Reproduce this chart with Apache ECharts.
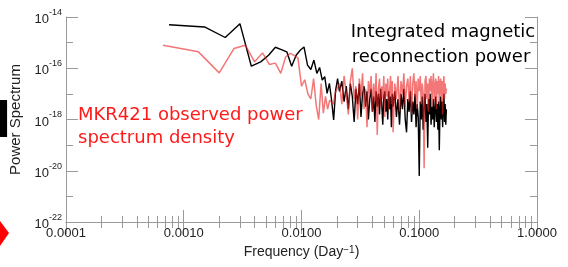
<!DOCTYPE html>
<html>
<head>
<meta charset="utf-8" />
<title>Power Spectrum</title>
<script src="https://cdn.jsdelivr.net/npm/echarts@6/dist/echarts.min.js"></script>
<style>
  html, body { margin: 0; padding: 0; background: #fff; }
  #chart { width: 568px; height: 267px; }
</style>
</head>
<body>
<div id="chart"></div>
<script type="text/javascript">
// tick values
var xMajor = [0.0001, 0.001, 0.01, 0.1, 1];
var xMinor = [0.0002, 0.0003, 0.0004, 0.0005, 0.0006, 0.0007, 0.0008, 0.0009,
              0.002, 0.003, 0.004, 0.005, 0.006, 0.007, 0.008, 0.009,
              0.02, 0.03, 0.04, 0.05, 0.06, 0.07, 0.08, 0.09,
              0.2, 0.3, 0.4, 0.5, 0.6, 0.7, 0.8, 0.9];
var yMajor = [1e-22, 1e-20, 1e-18, 1e-16, 1e-14];
var yMinor = [1e-21, 1e-19, 1e-17, 1e-15];

// integrated reconnection power (black), low frequencies
var blackLowFreq = [0.00075, 0.0015, 0.00225, 0.003, 0.00375, 0.0045, 0.00525, 0.006, 0.00675,
                    0.0075, 0.00825, 0.009, 0.00975, 0.0105, 0.01125, 0.012, 0.01275, 0.0135,
                    0.01425, 0.015, 0.01575, 0.0165, 0.01725, 0.018, 0.01875, 0.0195, 0.02025];
var blackLowExp = [-14.30, -14.39, -14.80, -14.26, -15.92, -15.75, -15.49, -15.18, -15.27,
                   -15.36, -15.92, -15.49, -15.30, -15.17, -15.88, -16.05, -15.68, -16.20,
                   -15.97, -16.46, -16.33, -16.98, -16.59, -17.24, -18.02, -16.85, -16.40];

// MKR421 observed power (red), low frequencies
var redLowFreq = [0.000667, 0.001333, 0.002, 0.002667, 0.003333, 0.004, 0.004667, 0.005333,
                  0.006, 0.006667, 0.007333, 0.008, 0.008667, 0.009333, 0.01, 0.010667,
                  0.011333, 0.012, 0.012667, 0.013333, 0.014, 0.014667, 0.015333, 0.016,
                  0.016667, 0.017333, 0.018, 0.018667, 0.019333, 0.02];
var redLowExp = [-15.10, -15.36, -16.18, -15.23, -15.10, -15.75, -15.40, -15.85,
                 -15.80, -16.20, -15.56, -15.42, -15.50, -15.60, -16.70, -16.45,
                 -17.00, -17.20, -16.40, -17.45, -18.00, -16.60, -17.75, -17.10,
                 -17.60, -17.25, -17.30, -17.40, -16.95, -17.00];

// high frequency part, shared frequency grid
var hfFreq = [0.021, 0.022, 0.023, 0.024, 0.025, 0.026, 0.027, 0.028, 0.029, 0.030,
              0.031, 0.032, 0.033, 0.034, 0.035, 0.036, 0.037, 0.038, 0.039, 0.040,
              0.041, 0.042, 0.043, 0.044, 0.045, 0.046, 0.047, 0.048, 0.049, 0.050,
              0.051, 0.052, 0.053, 0.054, 0.055, 0.056, 0.057, 0.058, 0.059, 0.060,
              0.062, 0.064, 0.066, 0.068, 0.070, 0.072, 0.074, 0.076, 0.078, 0.080,
              0.082, 0.084, 0.086, 0.088, 0.090, 0.092, 0.094, 0.096, 0.098, 0.100,
              0.102, 0.104, 0.106, 0.108, 0.110, 0.112, 0.114, 0.116, 0.118, 0.120,
              0.122, 0.124, 0.126, 0.128, 0.130, 0.132, 0.134, 0.136, 0.138, 0.140,
              0.142, 0.144, 0.146, 0.148, 0.150, 0.152, 0.154, 0.156, 0.158, 0.160,
              0.162, 0.164, 0.166, 0.168, 0.170];
var blackHfExp = [-16.9, -16.5, -17.3, -16.7, -17.6, -16.6, -17.1, -18.1, -16.8, -17.4,
                  -16.6, -17.9, -17.0, -16.7, -17.5, -16.9, -18.0, -17.2, -16.8, -17.7,
                  -17.1, -18.1, -16.9, -17.5, -17.0, -17.8, -16.8, -17.4, -18.2, -17.1,
                  -16.9, -17.7, -17.2, -18.0, -16.9, -17.6, -17.1, -18.3, -17.0, -17.5,
                  -16.9, -17.9, -17.2, -18.2, -17.0, -17.6, -16.8, -18.0, -18.5, -17.2,
                  -17.7, -16.9, -18.1, -17.3, -17.8, -17.0, -18.3, -17.4, -17.9, -20.2,
                  -17.3, -18.0, -17.1, -18.4, -17.5, -17.0, -18.1, -17.4, -19.1, -17.2,
                  -17.8, -17.0, -18.2, -17.5, -18.0, -17.2, -18.3, -17.6, -17.1, -18.1,
                  -17.4, -18.4, -17.3, -19.2, -17.6, -17.1, -18.0, -17.3, -18.3, -17.5,
                  -17.0, -18.1, -17.4, -18.2, -17.6];
var redHfExp = [-16.6, -17.4, -16.3, -17.0, -17.8, -16.5, -16.0, -17.2, -16.7, -18.0,
                -16.4, -17.1, -16.2, -17.6, -16.8, -18.3, -16.5, -17.0, -16.3, -17.7,
                -16.6, -17.3, -16.2, -18.6, -16.8, -16.4, -17.5, -16.7, -17.2, -16.3,
                -17.9, -16.6, -17.1, -16.4, -17.6, -16.9, -16.3, -17.4, -16.5, -18.5,
                -16.6, -17.2, -16.3, -17.7, -16.5, -17.0, -16.2, -17.5, -16.7, -16.4,
                -17.3, -16.3, -17.8, -16.6, -16.2, -17.1, -16.5, -17.6, -16.4, -16.9,
                -16.3, -17.4, -16.6, -17.0, -19.9, -16.5, -16.3, -17.2, -16.6, -17.7,
                -16.4, -16.9, -16.3, -17.5, -16.6, -16.2, -17.3, -16.7, -16.4, -17.6,
                -16.5, -17.0, -16.3, -17.4, -16.6, -16.4, -17.1, -16.5, -17.8, -16.7,
                -16.3, -17.2, -16.6, -17.0, -16.8];

function toPairs(freqs, exps) {
  return freqs.map(function (f, i) { return [f, Math.pow(10, exps[i])]; });
}
var blackData = toPairs(blackLowFreq.concat(hfFreq), blackLowExp.concat(blackHfExp));
var redData = toPairs(redLowFreq.concat(hfFreq), redLowExp.concat(redHfExp));

var axisGray = '#9a9a9a';
var labelFont = 'Liberation Sans';

function xAxisDef(pos, major) {
  var ax = {
    type: 'log', logBase: 10, min: 0.0001, max: 1, position: pos,
    axisLine: { show: major, lineStyle: { color: axisGray, width: 1 } },
    axisTick: { show: true, inside: true, length: major ? 12 : 6,
                customValues: major ? xMajor : xMinor,
                lineStyle: { color: axisGray, width: 1 } },
    axisLabel: { show: false },
    splitLine: { show: false }
  };
  if (pos === 'bottom' && major) {
    ax.axisLabel = {
      show: true, customValues: xMajor, margin: 5,
      fontFamily: labelFont, fontSize: 13, color: '#222',
      formatter: function (v) { return Number(v).toFixed(4); }
    };
    ax.name = 'Frequency (Day{s|\u22121})';
    ax.nameLocation = 'middle';
    ax.nameGap = 22;
    ax.nameTextStyle = {
      fontFamily: labelFont, fontSize: 14, color: '#222',
      rich: { s: { fontSize: 10, verticalAlign: 'top', lineHeight: 10, fontFamily: labelFont } }
    };
  }
  return ax;
}

function yAxisDef(pos, major) {
  var ax = {
    type: 'log', logBase: 10, min: 1e-22, max: 1e-14, position: pos,
    axisLine: { show: major, lineStyle: { color: axisGray, width: 1 } },
    axisTick: { show: true, inside: true, length: major ? 12 : 7,
                customValues: major ? yMajor : yMinor,
                lineStyle: { color: axisGray, width: 1 } },
    axisLabel: { show: false },
    splitLine: { show: false }
  };
  if (pos === 'left' && major) {
    ax.axisLabel = {
      show: true, customValues: yMajor, margin: 4,
      fontFamily: labelFont, color: '#222',
      formatter: function (v) {
        return '{b|10}{s|' + Math.round(Math.log10(v)) + '}';
      },
      rich: {
        b: { fontSize: 13, lineHeight: 18, verticalAlign: 'bottom', fontFamily: labelFont, color: '#222' },
        s: { fontSize: 9, lineHeight: 10, verticalAlign: 'top', fontFamily: labelFont, color: '#222' }
      }
    };
    ax.name = 'Power Spectrum';
    ax.nameLocation = 'middle';
    ax.nameGap = 38;
    ax.nameTextStyle = { fontFamily: labelFont, fontSize: 15, color: '#222' };
  }
  return ax;
}

var chart = echarts.init(document.getElementById('chart'));
chart.setOption({
  animation: false,
  backgroundColor: '#fff',
  grid: { left: 66, right: 31, top: 17, bottom: 45 },
  xAxis: [xAxisDef('bottom', true), xAxisDef('bottom', false), xAxisDef('top', true), xAxisDef('top', false)],
  yAxis: [yAxisDef('left', true), yAxisDef('left', false), yAxisDef('right', true), yAxisDef('right', false)],
  series: [
    {
      name: 'Integrated magnetic reconnection power', type: 'line',
      xAxisIndex: 0, yAxisIndex: 0,
      data: blackData, showSymbol: false,
      lineStyle: { color: '#000', width: 1.4 }
    },
    {
      name: 'MKR421 observed power spectrum density', type: 'line',
      xAxisIndex: 0, yAxisIndex: 0,
      data: redData, showSymbol: false,
      lineStyle: { color: 'rgba(235,35,35,0.62)', width: 1.5 }
    }
  ],
  graphic: [
    { type: 'text', x: 443, y: 32,
      style: { text: 'Integrated magnetic', fontFamily: 'DejaVu Sans', fontSize: 18,
               fill: '#000', align: 'center', verticalAlign: 'middle' } },
    { type: 'text', x: 441, y: 57,
      style: { text: 'reconnection power', fontFamily: 'DejaVu Sans', fontSize: 18,
               fill: '#000', align: 'center', verticalAlign: 'middle' } },
    { type: 'text', x: 78, y: 115,
      style: { text: 'MKR421 observed power', fontFamily: 'DejaVu Sans', fontSize: 18,
               fill: '#ff1a1a', align: 'left', verticalAlign: 'middle' } },
    { type: 'text', x: 78, y: 138,
      style: { text: 'spectrum density', fontFamily: 'DejaVu Sans', fontSize: 18,
               fill: '#ff1a1a', align: 'left', verticalAlign: 'middle' } },
    { type: 'text', x: 11, y: 149,
      style: { text: 'd', fontFamily: 'DejaVu Sans', fontWeight: 'bold', fontSize: 48,
               fill: '#000', align: 'right', verticalAlign: 'bottom' } },
    { type: 'polygon', shape: { points: [[0, 221], [9, 233], [0, 246]] },
      style: { fill: '#ff0000' } }
  ]
});
</script>
</body>
</html>
